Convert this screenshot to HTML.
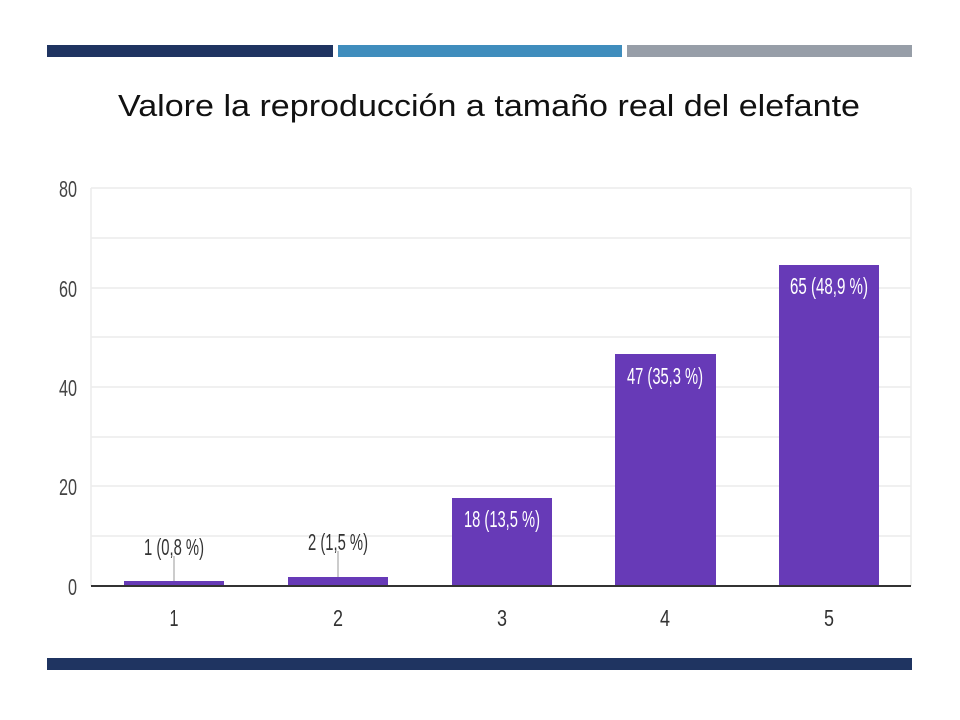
<!DOCTYPE html>
<html><head><meta charset="utf-8"><style>
html,body{margin:0;padding:0;background:#fff;}
svg{display:block;}
</style></head><body>
<svg width="960" height="720" viewBox="0 0 960 720" xmlns="http://www.w3.org/2000/svg" font-family="Liberation Sans, sans-serif">
<rect width="960" height="720" fill="#fff"/>
<rect x="47" y="45" width="286" height="12" fill="#1f3461"/>
<rect x="338" y="45" width="284" height="12" fill="#3f8dbd"/>
<rect x="627" y="45" width="285" height="12" fill="#979ea8"/>
<rect x="47" y="658" width="865" height="12" fill="#1f3461"/>
<text x="118" y="116" font-size="31" fill="#111" textLength="742" lengthAdjust="spacingAndGlyphs">Valore la reproducción a tamaño real del elefante</text>
<g stroke="#ececec" stroke-width="1.5">
<line x1="91" y1="188" x2="911" y2="188"/>
<line x1="91" y1="238" x2="911" y2="238"/>
<line x1="91" y1="288" x2="911" y2="288"/>
<line x1="91" y1="337" x2="911" y2="337"/>
<line x1="91" y1="387" x2="911" y2="387"/>
<line x1="91" y1="437" x2="911" y2="437"/>
<line x1="91" y1="486" x2="911" y2="486"/>
<line x1="91" y1="536" x2="911" y2="536"/>
<line x1="91" y1="188" x2="91" y2="586"/>
<line x1="911" y1="188" x2="911" y2="586"/>
</g>
<g font-size="23" fill="#444" text-anchor="end">
<text x="77" y="197" textLength="18" lengthAdjust="spacingAndGlyphs">80</text>
<text x="77" y="297" textLength="18" lengthAdjust="spacingAndGlyphs">60</text>
<text x="77" y="396" textLength="18" lengthAdjust="spacingAndGlyphs">40</text>
<text x="77" y="495" textLength="18" lengthAdjust="spacingAndGlyphs">20</text>
<text x="77" y="595" textLength="9" lengthAdjust="spacingAndGlyphs">0</text>
</g>
<g fill="#673ab7">
<rect x="124" y="581" width="100" height="5"/>
<rect x="288" y="577" width="100" height="9"/>
<rect x="452" y="498" width="100" height="88"/>
<rect x="615" y="354" width="101" height="232"/>
<rect x="779" y="265" width="100" height="321"/>
</g>
<line x1="91" y1="586" x2="911" y2="586" stroke="#333" stroke-width="2"/>
<g stroke="#999" stroke-width="1">
<line x1="174" y1="556" x2="174" y2="581"/>
<line x1="338" y1="551" x2="338" y2="577"/>
</g>
<g font-size="23" text-anchor="middle">
<text x="174" y="555" fill="#333" textLength="60" lengthAdjust="spacingAndGlyphs">1 (0,8 %)</text>
<text x="338" y="550" fill="#333" textLength="60" lengthAdjust="spacingAndGlyphs">2 (1,5 %)</text>
<text x="502" y="527" fill="#fff" textLength="76" lengthAdjust="spacingAndGlyphs">18 (13,5 %)</text>
<text x="665" y="384" fill="#fff" textLength="76" lengthAdjust="spacingAndGlyphs">47 (35,3 %)</text>
<text x="829" y="294" fill="#fff" textLength="78" lengthAdjust="spacingAndGlyphs">65 (48,9 %)</text>
</g>
<g font-size="23" fill="#333" text-anchor="middle">
<text x="174" y="626" textLength="9" lengthAdjust="spacingAndGlyphs">1</text>
<text x="338" y="626" textLength="10" lengthAdjust="spacingAndGlyphs">2</text>
<text x="502" y="626" textLength="10" lengthAdjust="spacingAndGlyphs">3</text>
<text x="665" y="626" textLength="10" lengthAdjust="spacingAndGlyphs">4</text>
<text x="829" y="626" textLength="10" lengthAdjust="spacingAndGlyphs">5</text>
</g>
</svg>
</body></html>
